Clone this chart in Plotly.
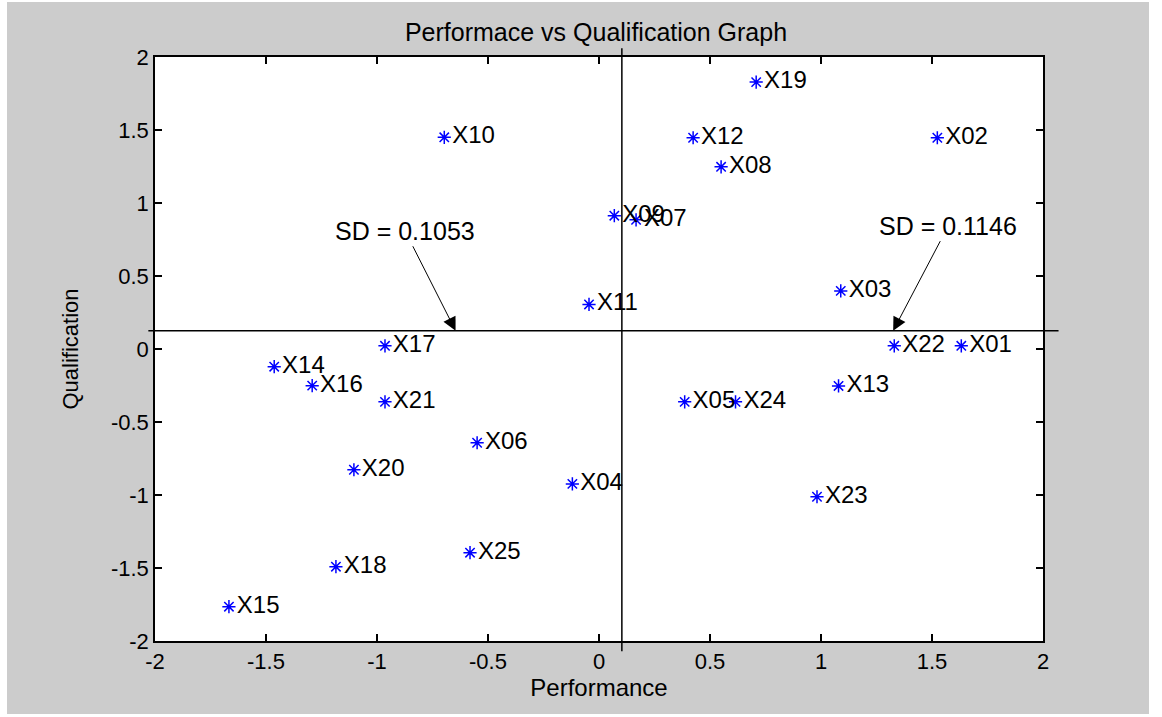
import plotly.graph_objects as go

# ---- data ----
names = ["X01", "X02", "X03", "X04", "X05", "X06", "X07", "X08", "X09", "X10",
         "X11", "X12", "X13", "X14", "X15", "X16", "X17", "X18", "X19", "X20",
         "X21", "X22", "X23", "X24", "X25"]
performance = [1.632, 1.524, 1.089, -0.120, 0.386, -0.549, 0.167, 0.550, 0.069, -0.697,
               -0.045, 0.424, 1.079, -1.463, -1.667, -1.292, -0.964, -1.185, 0.708, -1.104,
               -0.964, 1.330, 0.982, 0.615, -0.581]
qualification = [0.022, 1.447, 0.398, -0.924, -0.362, -0.642, 0.885, 1.248, 0.913, 1.450,
                 0.305, 1.447, -0.253, -0.121, -1.765, -0.251, 0.022, -1.491, 1.828, -0.827,
                 -0.362, 0.022, -1.012, -0.362, -1.395]

x_ticks = [-2, -1.5, -1, -0.5, 0, 0.5, 1, 1.5, 2]
x_tick_text = ["-2", "-1.5", "-1", "-0.5", "0", "0.5", "1", "1.5", "2"]
y_ticks = [-2, -1.5, -1, -0.5, 0, 0.5, 1, 1.5, 2]
y_tick_text = ["-2", "-1.5", "-1", "-0.5", "0", "0.5", "1", "1.5", "2"]

x_ref = 0.103      # vertical reference line
y_ref = 0.125      # horizontal reference line
h_line_span = [-2.03, 2.07]
v_line_span = [-2.07, 2.06]

sd_labels = ["SD = 0.1053", "SD = 0.1146"]
sd_heads_x = [-0.646, 1.325]
sd_tails = [(-0.874, 0.81), (1.574, 0.845)]

X_RANGE = [-2, 2]
Y_RANGE = [-2, 2]

FONT = "Liberation Sans, Arial, sans-serif"
FS_TICK = 22
FS_LABEL = 24
FS_SD = 25
FS_TITLE = 25
FS_AXTITLE = 24

W, H = 1162, 717
ML, MR, MT, MB = 155, 119, 57, 76
PW, PH = W - ML - MR, H - MT - MB

fig = go.Figure()
fig.add_trace(go.Scatter(
    x=performance, y=qualification, mode="markers+text",
    text=names, textposition="middle right",
    textfont=dict(family=FONT, size=FS_LABEL, color="black"),
    marker=dict(symbol="asterisk-open", size=11, color="blue",
                line=dict(color="blue", width=1.5)),
    cliponaxis=False, showlegend=False, hoverinfo="x+y+text",
))

def px_x(v):
    return (v - X_RANGE[0]) / (X_RANGE[1] - X_RANGE[0])

def px_y(v):
    return (v - Y_RANGE[0]) / (Y_RANGE[1] - Y_RANGE[0])

def pap_x(p):
    return (p - ML) / PW

def pap_y(p):
    return (H - MB - p) / PH

shapes = [
    dict(type="line", xref="paper", yref="paper",
         x0=px_x(h_line_span[0]), x1=px_x(h_line_span[1]),
         y0=px_y(y_ref), y1=px_y(y_ref), line=dict(color="black", width=1.5)),
    dict(type="line", xref="paper", yref="paper",
         x0=px_x(x_ref), x1=px_x(x_ref),
         y0=px_y(v_line_span[0]), y1=px_y(v_line_span[1]), line=dict(color="black", width=1.5)),
]
# white frame around the grey figure area
for (a, b, c, d) in [(0, 7, 0, H), (1149, W, 0, H), (0, W, 0, 2), (0, W, 714, H)]:
    shapes.append(dict(type="rect", xref="paper", yref="paper",
                       x0=pap_x(a), x1=pap_x(b), y0=pap_y(d), y1=pap_y(c),
                       fillcolor="white", line=dict(width=0), layer="above"))

annotations = []
for lab, hx, (tx, ty) in zip(sd_labels, sd_heads_x, sd_tails):
    annotations.append(dict(
        x=hx, y=y_ref, xref="x", yref="y", ax=tx, ay=ty, axref="x", ayref="y",
        text=lab, showarrow=True, arrowhead=2, arrowsize=2.7, arrowwidth=1,
        arrowcolor="black", font=dict(family=FONT, size=FS_SD, color="black"),
    ))

axis_common = dict(
    showgrid=False, zeroline=False, showline=True, linecolor="black", linewidth=1.5,
    mirror="ticks", ticks="inside", ticklen=7, tickwidth=1.5, tickcolor="black",
    tickfont=dict(family=FONT, size=FS_TICK, color="black"),
)

fig.update_layout(
    width=W, height=H,
    margin=dict(l=ML, r=MR, t=MT, b=MB),
    paper_bgcolor="#cccccc", plot_bgcolor="white",
    title=dict(text="Performace vs Qualification Graph", x=596 / W,
               xanchor="center", y=1 - 32 / H, yanchor="middle",
               font=dict(family=FONT, size=FS_TITLE, color="black")),
    xaxis=dict(range=X_RANGE, tickvals=x_ticks, ticktext=x_tick_text,
               title=dict(text="Performance", font=dict(family=FONT, size=FS_AXTITLE, color="black"),
                          standoff=6),
               **axis_common),
    yaxis=dict(range=Y_RANGE, tickvals=y_ticks, ticktext=y_tick_text,
               title=dict(text="Qualification", font=dict(family=FONT, size=22, color="black"),
                          standoff=26),
               **axis_common),
    shapes=shapes, annotations=annotations,
)

fig.write_html("out.html")
